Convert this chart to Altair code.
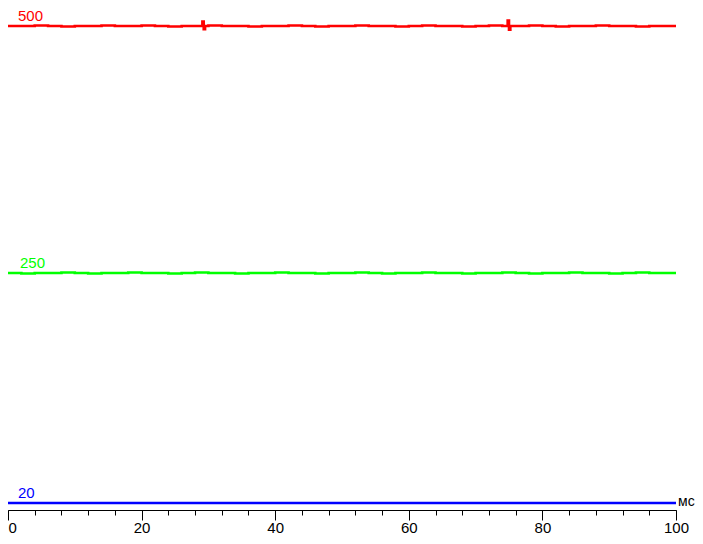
import altair as alt
import pandas as pd

# time grid (ms) and measured levels (relative brightness units)
ms_grid = [0, 2, 4, 6, 8, 10, 12, 14, 16, 18, 20, 22, 24, 26, 28, 30, 32, 34, 36, 38,
           40, 42, 44, 46, 48, 50, 52, 54, 56, 58, 60, 62, 64, 66, 68, 70, 72, 74, 76, 78,
           80, 82, 84, 86, 88, 90, 92, 94, 96, 98, 100]

red_500 = [96.4, 96.4, 96.5, 96.4, 96.3, 96.4, 96.4, 96.5, 96.4, 96.4,
           96.5, 96.4, 96.3, 96.4, 96.4, 96.5, 96.4, 96.4, 96.3, 96.4,
           96.4, 96.5, 96.4, 96.3, 96.4, 96.4, 96.5, 96.4, 96.4, 96.3,
           96.4, 96.5, 96.4, 96.4, 96.3, 96.4, 96.5, 96.4, 96.4, 96.5,
           96.4, 96.3, 96.4, 96.4, 96.5, 96.4, 96.4, 96.3, 96.4, 96.4, 96.4]
red_spike_ms = [29.1, 29.3, 29.5, 74.8, 75.0, 75.2]
red_spike_val = [97.3, 95.8, 96.4, 97.5, 95.7, 96.4]

green_250 = [47.2, 47.1, 47.2, 47.2, 47.3, 47.2, 47.1, 47.2, 47.2, 47.3,
             47.2, 47.2, 47.1, 47.2, 47.3, 47.2, 47.2, 47.1, 47.2, 47.2,
             47.3, 47.2, 47.2, 47.1, 47.2, 47.2, 47.3, 47.2, 47.1, 47.2,
             47.2, 47.3, 47.2, 47.2, 47.1, 47.2, 47.2, 47.3, 47.2, 47.1,
             47.2, 47.2, 47.3, 47.2, 47.2, 47.1, 47.2, 47.3, 47.2, 47.2, 47.2]

blue_20 = [1.4, 1.4, 1.4, 1.4, 1.4, 1.4, 1.4, 1.4, 1.4, 1.4,
           1.4, 1.4, 1.4, 1.4, 1.4, 1.4, 1.4, 1.4, 1.4, 1.4,
           1.4, 1.4, 1.4, 1.4, 1.4, 1.4, 1.4, 1.4, 1.4, 1.4,
           1.4, 1.4, 1.4, 1.4, 1.4, 1.4, 1.4, 1.4, 1.4, 1.4,
           1.4, 1.4, 1.4, 1.4, 1.4, 1.4, 1.4, 1.4, 1.4, 1.4, 1.4]

series_names = ["500", "250", "20"]
series_colors = ["#ff0000", "#00ff00", "#0000ff"]
label_ms = [1.5, 1.8, 1.5]

major_ticks = [0, 20, 40, 60, 80, 100]
minor_ticks = [0, 4, 8, 12, 16, 20, 24, 28, 32, 36, 40, 44, 48, 52, 56, 60, 64, 68,
               72, 76, 80, 84, 88, 92, 96, 100]
unit_label = "мс"

rows = []
for name, vals in zip(series_names, [red_500, green_250, blue_20]):
    for t, v in zip(ms_grid, vals):
        rows.append({"ms": t, "value": v, "series": name})
for t, v in zip(red_spike_ms, red_spike_val):
    rows.append({"ms": t, "value": v, "series": "500"})
df = pd.DataFrame(rows)

levels = [red_500[0], green_250[0], blue_20[0]]
lab = pd.DataFrame({"ms": label_ms, "value": levels, "series": series_names})

xscale = alt.Scale(domain=[0, 100], nice=False, zero=False)
yscale = alt.Scale(domain=[0, 100], nice=False, zero=False)
cscale = alt.Scale(domain=series_names, range=series_colors)

FONT = "Liberation Sans"

lines = alt.Chart(df).mark_line(interpolate="step-after", strokeWidth=2.6).encode(
    x=alt.X("ms:Q", scale=xscale,
            axis=alt.Axis(values=minor_ticks, tickSize=5, labels=False, title=None,
                          grid=False, domain=True, domainColor="black", domainWidth=1,
                          tickColor="black", tickWidth=1, orient="bottom")),
    y=alt.Y("value:Q", scale=yscale, axis=None),
    color=alt.Color("series:N", scale=cscale, legend=None),
    detail="series:N",
)

labels = alt.Chart(lab).mark_text(align="left", baseline="alphabetic", dy=-5,
                                  font=FONT, fontSize=15).encode(
    x=alt.X("ms:Q", scale=xscale,
            axis=alt.Axis(values=major_ticks, tickSize=10, labels=True, title=None,
                          grid=False, domain=False, tickColor="black", tickWidth=1,
                          labelFont=FONT, labelFontSize=15, labelColor="black",
                          labelPadding=0, labelFlush=False, orient="bottom",
                          labelAlign={"condition": {"test": "datum.value === 0", "value": "left"},
                                      "value": "center"})),
    y=alt.Y("value:Q", scale=yscale, axis=None),
    text="series:N",
    color=alt.Color("series:N", scale=cscale, legend=None),
)

unit = alt.Chart(pd.DataFrame({"t": [unit_label]})).mark_text(
    align="left", baseline="alphabetic", font=FONT, fontSize=14, color="black"
).encode(x=alt.value(670), y=alt.value(498), text="t:N")

chart = alt.layer(lines, labels, unit).resolve_axis(x="independent").properties(
    width=668, height=502,
    autosize=alt.AutoSizeParams(type="none"),
    padding={"left": 0, "top": 0, "right": 19, "bottom": 26},
    background="white",
).configure_view(stroke=None)

chart.save("out.html", embed_options={"renderer": "svg", "actions": False})
